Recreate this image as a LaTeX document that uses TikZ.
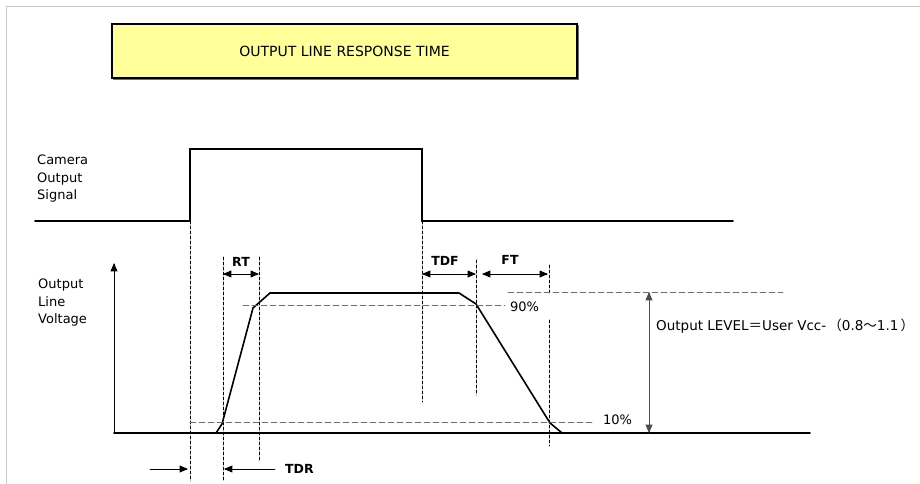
\documentclass[tikz,border=0pt]{standalone}
\usepackage{fontspec}
\setmainfont{DejaVu Sans}
\newfontfamily\cjk{Noto Sans CJK JP}
\usetikzlibrary{arrows,calc}
\usepackage{tkz-euclide}
\definecolor{BoxClr}{RGB}{255,255,153}
\definecolor{FrameClr}{RGB}{200,200,200}
\definecolor{GuideClr}{RGB}{110,110,110}
\tikzset{
  wave/.style={line width=1.6pt,color=black},
  vguide/.style={line width=0.8pt,color=black,dash pattern=on 3pt off 2pt},
  hguide/.style={line width=0.8pt,color=GuideClr,dash pattern=on 6pt off 3pt},
  dimarrow/.style={line width=0.9pt,>=triangle 45,<->},
  lbl/.style={font=\fontsize{13}{17.5}\selectfont,inner sep=0pt},
  dimlbl/.style={font=\fontsize{12.5}{15}\selectfont\bfseries,inner sep=0pt}
}

\begin{document}
\begin{tikzpicture}[x=10pt,y=10pt]
\useasboundingbox (0,0) rectangle (92,48.4);

\tkzDefPoints{0.6/0/F1,0.6/47.8/F2,92/47.8/F3}
\tkzDrawPolySeg[line width=0.8pt,color=FrameClr](F1,F2,F3)

% title box
\tkzDefPoints{11.2/46.0/T1,57.7/40.6/T2}
\draw[fill=GuideClr,draw=GuideClr,line width=1pt] ($(T1)+(0.15,-0.15)$) rectangle ($(T2)+(0.15,-0.15)$);
\draw[fill=BoxClr,line width=1.3pt] (T1) rectangle (T2);
\node[lbl,font=\fontsize{14}{16}\selectfont] (title) at ($(T1)!0.5!(T2)$) {OUTPUT LINE RESPONSE TIME};

% camera output signal
\tkzDefPoints{3.5/26.3/S0,19/26.3/S1,19/33.5/S2,42.2/33.5/S3,42.2/26.3/S4,73.3/26.3/S5}
\tkzDrawPolySeg[wave](S0,S1,S2,S3,S4,S5)
\node[lbl,anchor=west,align=left] (cam) at (3.7,30.5) {Camera\\Output\\Signal};

% output line voltage
\tkzDefPoints{11.4/5.1/O,11.4/22.1/Y,81/5.1/X}
\tkzDrawSegment[line width=0.9pt,-triangle 45](O,Y)
\tkzDrawSegment[wave](O,X)
\node[lbl,anchor=west,align=left] (volt) at (3.8,18.1) {Output\\Line\\Voltage};

\tkzDefPoints{21.6/5.1/W0,22.2/6.0/W1,25.3/17.6/W2,27/19.1/W3,45.9/19.1/W4,47.6/18.0/W5,55/6.1/W6,56.2/5.1/W7}
\tkzDrawPolySeg[wave](W0,W1,W2,W3,W4,W5,W6,W7)

% guides
\tkzDefPoints{19/26.3/A1,19/0.3/A2,22.3/22.7/B1,22.3/0.3/B2,25.9/22.7/C1,25.9/2.4/C2,
  42.2/26.3/D1,42.2/8.2/D2,47.6/22.4/E1,47.6/8.9/E2,
  54.9/21.9/G1,54.9/19.1/G2,54.9/16.4/G3,54.9/3.8/G4}
\tkzDrawSegments[vguide](A1,A2 B1,B2 C1,C2 D1,D2 E1,E2 G1,G2 G3,G4)

\tkzDefPoints{24.3/17.9/P1,50.5/17.9/P2,50.8/19.2/Q1,78.3/19.2/Q2,19/6.2/R1,59.3/6.2/R2}
\tkzDrawSegments[hguide](P1,P2 Q1,Q2 R1,R2)
\node[lbl,anchor=west] (p90) at (51,17.7) {90\%};
\node[lbl,anchor=west] (p10) at (60.3,6.4) {10\%};

% timing arrows
\tkzDefPoints{22.3/21/RTa,25.9/21/RTb,42.2/21/TDFa,47.6/21/TDFb,48.2/21/FTa,54.8/21/FTb,
  15/1.5/TDRa,18.8/1.5/TDRb,27.5/1.5/TDRc,22.4/1.5/TDRd,64.9/19.2/La,64.9/5.1/Lb}
\tkzDrawSegments[dimarrow](RTa,RTb TDFa,TDFb FTa,FTb)
\tkzDrawSegments[line width=0.9pt,-triangle 45](TDRa,TDRb TDRc,TDRd)
\tkzDrawSegment[dimarrow,color=black!70](La,Lb)

\node[dimlbl] (rt) at (24.1,22.2) {RT};
\node[dimlbl] (tdf) at (44.5,22.3) {TDF};
\node[dimlbl] (ft) at (51,22.4) {FT};
\node[dimlbl,anchor=west] (tdr) at (28.5,1.5) {TDR};
\node[lbl,anchor=west,font=\fontsize{13.5}{16}\selectfont] (lvl) at (65.6,15.8)
  {Output LEVEL{\cjk ＝}User Vcc-\,{\cjk （}0.8{\cjk ～}1.1\,{\cjk ）}};

\end{tikzpicture}
\end{document}
